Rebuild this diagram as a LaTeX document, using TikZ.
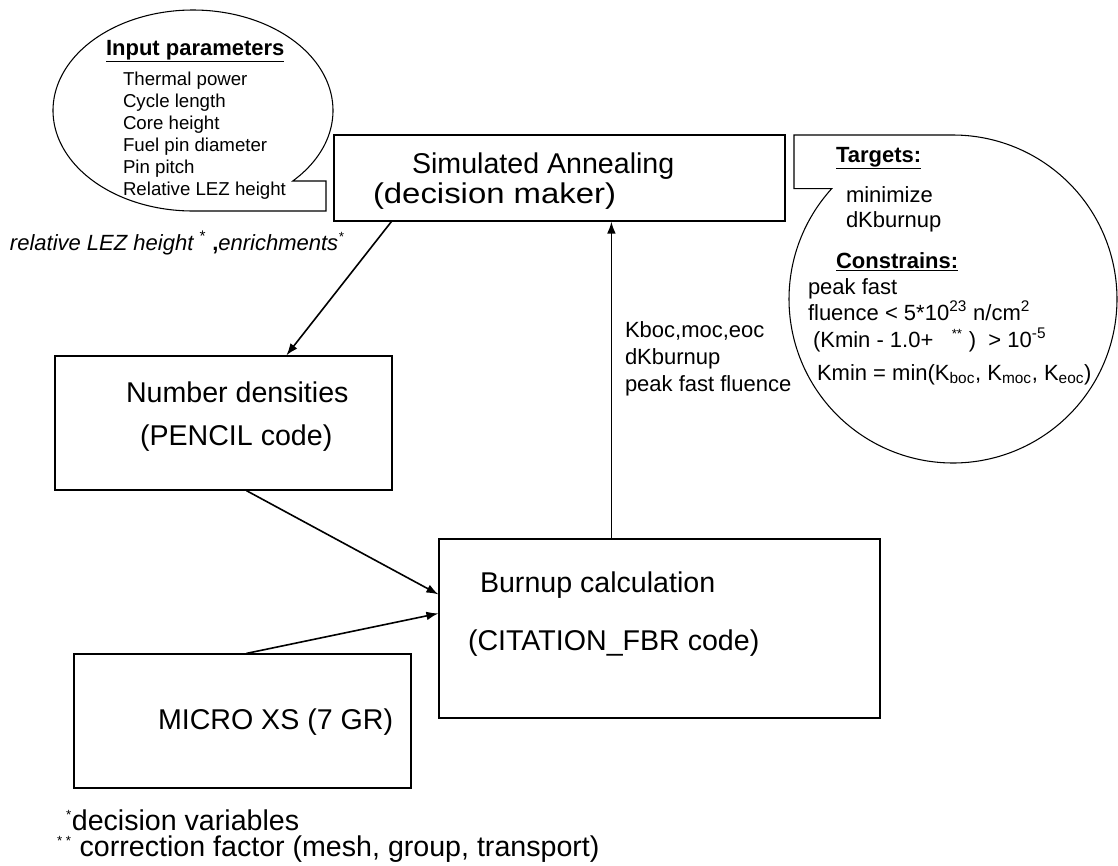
\documentclass[tikz,border=0pt]{standalone}
\usepackage{fontspec}
\usepackage{graphicx}
\setmainfont{Liberation Sans}
\usetikzlibrary{arrows.meta,calc}
\newcommand{\fbig}{\fontsize{21.45}{26}\selectfont}
\newcommand{\fmid}{\fontsize{16.5}{20.25}\selectfont}
\newcommand{\fsmall}{\fontsize{14}{16.5}\selectfont}
\newcommand{\starsup}[1]{\textsuperscript{\fontsize{10}{10}\selectfont #1}}
\tikzset{
  box/.style={draw, line width=0.9pt, inner sep=0pt, minimum width=252.75pt, minimum height=100.5pt},
  conn/.style={line width=1.2pt, -{Latex[length=9pt,width=6.5pt]}},
  txt/.style={anchor=base west, inner sep=0pt, outer sep=0pt},
  bigtxt/.style={txt, font=\fbig},
  midtxt/.style={txt, font=\fmid},
  smtxt/.style={txt, font=\fsmall},
  callout/.style={draw, line width=0.8pt, line join=miter},
}
\begin{document}
\begin{tikzpicture}[x=0.75pt,y=-0.75pt]
\useasboundingbox (0,0) rectangle (1118,865);

% Input parameters callout
\draw[callout] (326,181) -- (326,211) -- plot[domain=90:404.55,samples=160,smooth] ({193+140*cos(\x)},{110.5+100.5*sin(\x)}) -- cycle;
\node[midtxt] (inhead) at (106,55) {\bfseries\underline{Input parameters}};
\node[smtxt] (in1) at (123,85) {Thermal power};
\node[smtxt] (in2) at (123,107) {Cycle length};
\node[smtxt] (in3) at (123,129) {Core height};
\node[smtxt] (in4) at (123,151) {Fuel pin diameter};
\node[smtxt] (in5) at (123,173) {Pin pitch};
\node[smtxt] (in6) at (123,195) {Relative LEZ height};

% Targets callout
\draw[callout] (794,188.7) -- (794,135) -- plot[domain=-90:222.3,samples=200,smooth] ({953+164*cos(\x)},{299+164*sin(\x)}) -- cycle;
\node[midtxt] (thead) at (836,162) {\bfseries\underline{Targets:}};
\node[midtxt] (tmin) at (846,202) {minimize};
\node[midtxt] (tdk) at (846,227) {dKburnup};
\node[midtxt] (chead) at (836,268) {\bfseries\underline{Constrains:}};
\node[midtxt] (c1) at (808,294) {peak fast};
\node[midtxt] (c2) at (808,320) {fluence < 5*10\textsuperscript{23} n/cm\textsuperscript{2}};
\node[midtxt] (c3) at (813,347) {(Kmin - 1.0+ \ \ \starsup{**} ) \ > 10\textsuperscript{-5}};
\node[midtxt] (c4) at (817,380) {Kmin = min(K\textsubscript{boc}, K\textsubscript{moc}, K\textsubscript{eoc})};

% Boxes
\node[box, minimum width=338.25pt, minimum height=64.5pt] (sa) at (559.5,178) {};
\node[box] (nd) at (223.5,423) {};
\node[box, minimum width=330.75pt, minimum height=134.25pt] (bu) at (659.5,628.5) {};
\node[box] (mx) at (242.5,721) {};

\node[bigtxt] (sa1) at (412,173) {Simulated Annealing};
\node[bigtxt] (sa2) at (373,203) {\scalebox{1.15}[1]{(decision maker)}};
\node[bigtxt] (nd1) at (126,402) {Number densities};
\node[bigtxt] (nd2) at (140,445) {(PENCIL code)};
\node[bigtxt] (bu1) at (480,592) {Burnup calculation};
\node[bigtxt] (bu2) at (468,650) {(CITATION\_FBR code)};
\node[bigtxt] (mx1) at (158,729) {MICRO XS (7 GR)};

% Connectors
\draw[conn] ($(sa.south west)+(58,0)$) -- ($(nd.north west)+(232,0)$);
\draw[conn] ($(nd.south west)+(192,0)$) -- ($(bu.north west)+(0,56)$);
\draw[conn] ($(mx.north west)+(173,0)$) -- ($(bu.north west)+(0,75)$);
\draw[conn] ($(bu.north west)+(173,0)$) -- ($(sa.south west)+(278,0)$);

% Connector labels
\node[midtxt] (lab1) at (10,250) {\itshape relative LEZ height \textsuperscript{\upshape *} \textbf{\upshape ,}enrichments\starsup{*}};
\node[midtxt] (lab2a) at (625,337) {Kboc,moc,eoc};
\node[midtxt] (lab2b) at (625,364) {dKburnup};
\node[midtxt] (lab2c) at (625,391) {peak fast fluence};

% Footnotes
\node[bigtxt] (fn1) at (66,830) {\starsup{*}decision variables};
\node[bigtxt] (fn2) at (57,856) {\starsup{* *} correction factor (mesh, group, transport)};
\end{tikzpicture}
\end{document}
